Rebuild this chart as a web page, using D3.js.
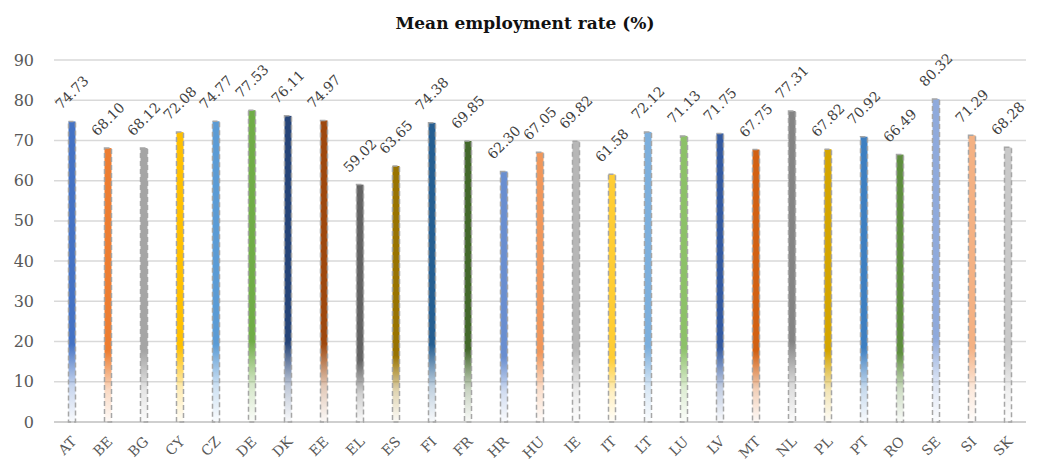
<!DOCTYPE html>
<html>
<head>
<meta charset="utf-8">
<script src="https://cdn.jsdelivr.net/npm/d3@7"></script>
<style>
  body { margin: 0; background: #fff; }
  text { font-family: "DejaVu Serif", "Liberation Serif", serif; }
</style>
</head>
<body>
<div id="chart"></div>
<script>
// Countries and mean employment rate values.
var countries = ["AT","BE","BG","CY","CZ","DE","DK","EE","EL","ES","FI","FR","HR","HU",
  "IE","IT","LT","LU","LV","MT","NL","PL","PT","RO","SE","SI","SK"];
var rates = [74.73,68.10,68.12,72.08,74.77,77.53,76.11,74.97,59.02,63.65,74.38,69.85,62.30,67.05,
  69.82,61.58,72.12,71.13,71.75,67.75,77.31,67.82,70.92,66.49,80.32,71.29,68.28];
var barColors = ["#4472C4","#ED7D31","#A5A5A5","#FFC000","#5B9BD5","#70AD47","#264478","#9E480E",
  "#636363","#997300","#255E91","#43682B","#698ED0","#F1975A","#B7B7B7","#FFCD33","#7CAFDD",
  "#8CC168","#335AA1","#D26012","#848484","#D4A500","#3E7FC1","#5E8E3E","#8FAADC","#F4B183","#C9C9C9"];
var yTicks = [0,10,20,30,40,50,60,70,80,90];

var width = 1037, height = 462;
var margin = {top: 60, right: 11, bottom: 40, left: 54};
var plotW = width - margin.left - margin.right,
    plotH = height - margin.top - margin.bottom;

var data = countries.map(function(c, i) { return {name: c, value: rates[i], color: barColors[i]}; });

var svg = d3.select("#chart")
  .append("svg")
  .attr("width", width)
  .attr("height", height);

// Title
svg.append("text")
  .attr("x", 525)
  .attr("y", 29)
  .attr("text-anchor", "middle")
  .style("font-size", "17px")
  .style("font-weight", "bold")
  .style("fill", "#111")
  .text("Mean employment rate (%)");

var g = svg.append("g")
  .attr("transform", "translate(" + margin.left + "," + margin.top + ")");

var x = d3.scaleBand()
  .domain(countries)
  .range([0, plotW]);

var y = d3.scaleLinear()
  .domain([0, 90])
  .range([plotH, 0]);

// Gridlines
g.selectAll(".grid")
  .data(yTicks)
  .enter()
  .append("line")
  .attr("x1", 0)
  .attr("x2", plotW)
  .attr("y1", function(d) { return y(d); })
  .attr("y2", function(d) { return y(d); })
  .attr("stroke", function(d) { return d === 0 ? "#BFBFBF" : "#D9D9D9"; })
  .attr("stroke-width", 1.5);

// Y tick labels
g.selectAll(".ylab")
  .data(yTicks)
  .enter()
  .append("text")
  .attr("x", -20)
  .attr("y", function(d) { return y(d); })
  .attr("dy", "0.35em")
  .attr("text-anchor", "end")
  .style("font-size", "16px")
  .style("fill", "#595959")
  .text(function(d) { return d; });

// Fading gradients, one per bar
var defs = svg.append("defs");
data.forEach(function(d, i) {
  var grad = defs.append("linearGradient")
    .attr("id", "grad" + i)
    .attr("x1", 0).attr("y1", 0).attr("x2", 0).attr("y2", 1);
  grad.append("stop").attr("offset", "0").attr("stop-color", d.color).attr("stop-opacity", 1);
  grad.append("stop").attr("offset", "0.74").attr("stop-color", d.color).attr("stop-opacity", 1);
  grad.append("stop").attr("offset", "0.88").attr("stop-color", d.color).attr("stop-opacity", 0.3);
  grad.append("stop").attr("offset", "1").attr("stop-color", d.color).attr("stop-opacity", 0.03);
});

var barW = 7;

// Bars
g.selectAll(".bar")
  .data(data)
  .enter()
  .append("rect")
  .attr("x", function(d) { return x(d.name) + x.bandwidth() / 2 - barW / 2; })
  .attr("y", function(d) { return y(d.value); })
  .attr("width", barW)
  .attr("height", function(d) { return y(0) - y(d.value); })
  .attr("fill", function(d, i) { return "url(#grad" + i + ")"; })
  .attr("stroke", "#A6A6A6")
  .attr("stroke-width", 1.5)
  .attr("stroke-dasharray", "5,3");

// Value labels, rotated
g.selectAll(".vlab")
  .data(data)
  .enter()
  .append("text")
  .attr("transform", function(d) {
    return "translate(" + (x(d.name) + x.bandwidth() / 2) + "," + (y(d.value) - 29) + ") rotate(-45)";
  })
  .attr("text-anchor", "middle")
  .attr("dy", "0.35em")
  .style("font-size", "14px")
  .style("fill", "#404040")
  .text(function(d) { return d.value.toFixed(2); });

// X axis labels, rotated
g.selectAll(".xlab")
  .data(data)
  .enter()
  .append("text")
  .attr("transform", function(d) {
    return "translate(" + (x(d.name) + x.bandwidth() / 2 + 2) + "," + (plotH + 17) + ") rotate(-45)";
  })
  .attr("text-anchor", "end")
  .attr("dy", "0.35em")
  .style("font-size", "14px")
  .style("fill", "#595959")
  .text(function(d) { return d.name; });
</script>
</body>
</html>
